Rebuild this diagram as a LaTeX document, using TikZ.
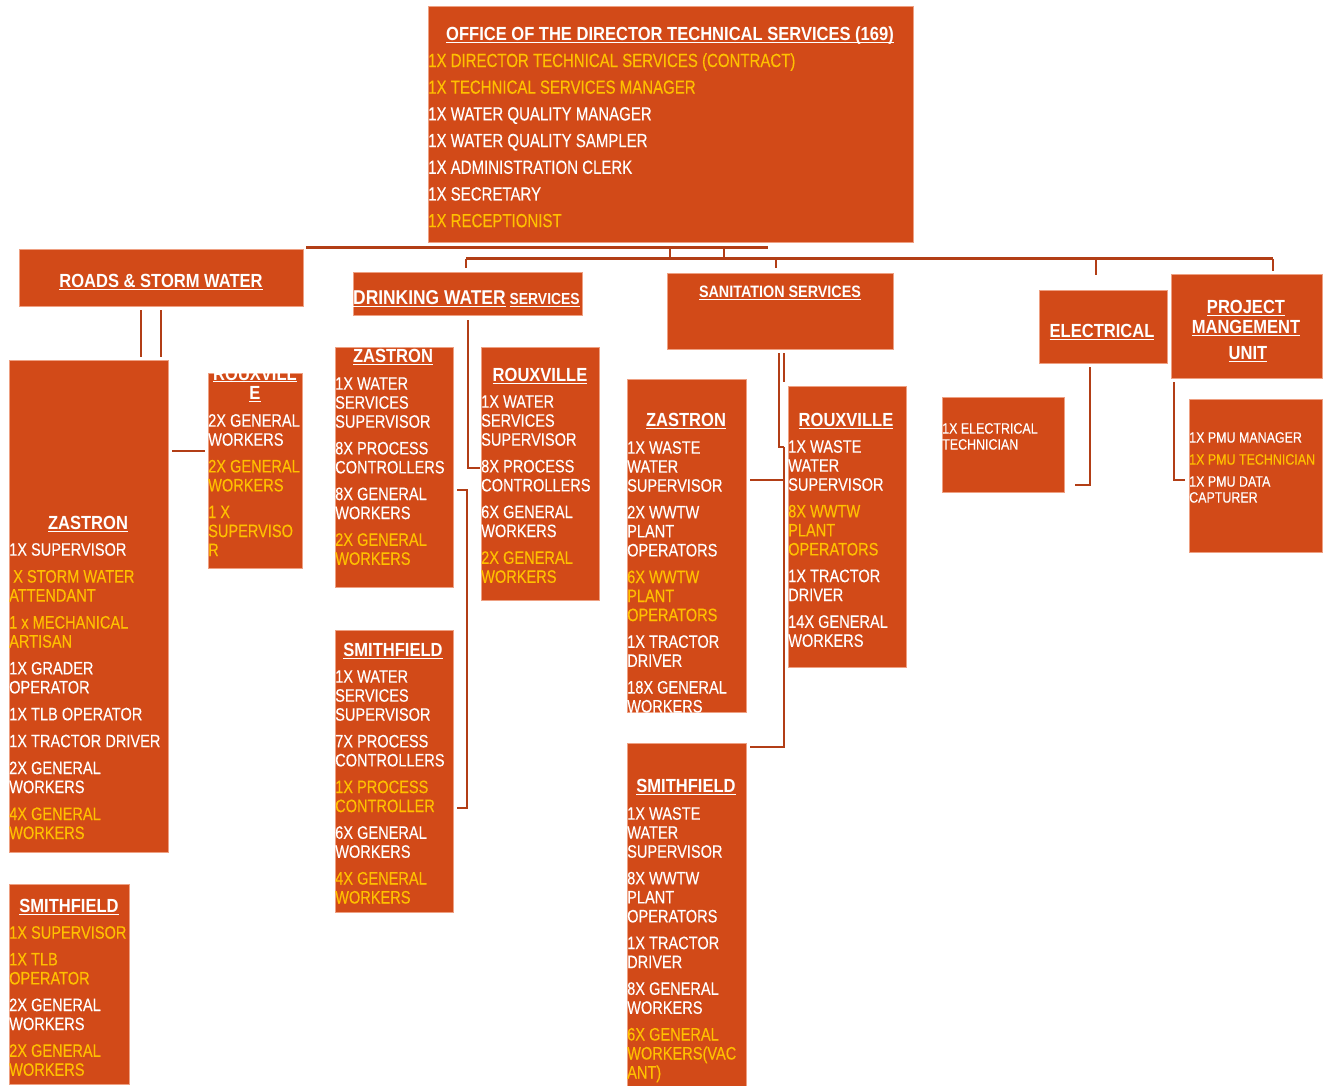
\documentclass[tikz,border=0pt]{standalone}
\usepackage{fontspec}
\setmainfont{Liberation Sans}
\newfontfamily\fbody{Liberation Sans}[FakeStretch=0.81,FakeBold=0.25]
\newfontfamily\ftop{Liberation Sans}[FakeStretch=0.79,FakeBold=0.25]
\newfontfamily\fhead{Liberation Sans}[FakeStretch=0.87]
\newfontfamily\fsmall{Liberation Sans}[FakeStretch=0.83,FakeBold=0.2]
\definecolor{boxc}{RGB}{210,74,24}
\definecolor{linec}{RGB}{178,62,22}
\definecolor{gold}{RGB}{255,192,0}
\definecolor{edgec}{RGB}{238,160,130}
\newcommand\gd[1]{\textcolor{gold}{#1}}
\newsavebox\ulbox
\newcommand\undl[1]{\sbox\ulbox{#1}\rlap{\rule[-2.2pt]{\wd\ulbox}{1.2pt}}\usebox\ulbox}
\newcommand\fsA{\rule{0pt}{14pt}}
\newcommand\fsS{\rule{0pt}{12pt}}
\newcommand\fsT{\rule{0pt}{15pt}}
\tikzset{
  box/.style={draw=edgec, line width=0.6pt, fill=boxc, anchor=north west, inner sep=0pt, outer sep=0pt},
  txt/.style={anchor=north west, inner sep=0pt, align=left, text=white, font=\fbody\fontsize{18}{19}\selectfont},
  stxt/.style={txt, font=\fsmall\fontsize{15}{16}\selectfont},
  toptxt/.style={txt, font=\ftop\fontsize{19}{26.7}\selectfont},
  head/.style={anchor=base, inner sep=0pt, text=white, font=\fhead\bfseries\fontsize{19}{21}\selectfont},
  conn/.style={draw=linec, line width=2.6pt},
  bus/.style={draw=linec, line width=3pt},
}
\begin{document}
\begin{tikzpicture}[x=1pt,y=-1pt]
\useasboundingbox (0,0) rectangle (1331,1086);

% ---------- boxes ----------
\node[box, minimum width=485pt, minimum height=236pt] (top) at (428,6) {};
\node[box, minimum width=284pt, minimum height=57pt] (roads) at (19,249) {};
\node[box, minimum width=159pt, minimum height=492pt] (rzas) at (9,360) {};
\node[box, minimum width=94pt, minimum height=195pt] (rrou) at (208,373) {};
\node[box, minimum width=120pt, minimum height=200pt] (rsmi) at (9,884) {};
\node[box, minimum width=229pt, minimum height=43pt] (dw) at (353,272) {};
\node[box, minimum width=118pt, minimum height=240pt] (dzas) at (335,347) {};
\node[box, minimum width=118pt, minimum height=253pt] (drou) at (481,347) {};
\node[box, minimum width=118pt, minimum height=282pt] (dsmi) at (335,630) {};
\node[box, minimum width=226pt, minimum height=76pt] (san) at (667,273) {};
\node[box, minimum width=119pt, minimum height=333pt] (szas) at (627,379) {};
\node[box, minimum width=118pt, minimum height=281pt] (srou) at (788,386) {};
\node[box, minimum width=119pt, minimum height=343pt] (ssmi) at (627,743) {};
\node[box, minimum width=128pt, minimum height=73pt] (elec) at (1039,290) {};
\node[box, minimum width=122pt, minimum height=95pt] (etec) at (942,397) {};
\node[box, minimum width=151pt, minimum height=104pt] (pmu) at (1171,274) {};
\node[box, minimum width=133pt, minimum height=153pt] (pmus) at (1189,399) {};

% ---------- top box ----------
\node[head] (toptitle) at (670,40.8) {\undl{OFFICE OF THE DIRECTOR TECHNICAL SERVICES (169)}};
\node[toptxt] (toplines) at (428,51.8) {\fsT\gd{1X DIRECTOR TECHNICAL SERVICES (CONTRACT)}\\
  \gd{1X TECHNICAL SERVICES MANAGER}\\
  1X WATER QUALITY MANAGER\\
  1X WATER QUALITY SAMPLER\\
  1X ADMINISTRATION CLERK\\
  1X SECRETARY\\
  \gd{1X RECEPTIONIST}};

% ---------- roads & storm water ----------
\node[head] (roadst) at (161,287.8) {\undl{ROADS \& STORM WATER}};
\node[head] (rzast) at (88,529.8) {\undl{ZASTRON}};
\node[txt] (rzasl) at (9,541.5) {\fsA 1X SUPERVISOR\\[7.9pt]
  \gd{\hspace{4pt}X STORM WATER}\\ \gd{ATTENDANT}\\[7.9pt]
  \gd{1 x MECHANICAL}\\ \gd{ARTISAN}\\[7.9pt]
  1X GRADER\\ OPERATOR\\[7.9pt]
  1X TLB OPERATOR\\[7.9pt]
  1X TRACTOR DRIVER\\[7.9pt]
  2X GENERAL\\ WORKERS\\[7.9pt]
  \gd{4X GENERAL}\\ \gd{WORKERS}};
\begin{scope}
  \clip (208,373) rectangle (302,568);
  \node[head] (rrout1) at (255,380) {\undl{ROUXVILL}};
  \node[head] (rrout2) at (255,399.8) {\undl{E}};
  \node[txt] (rroul) at (208,412.5) {\fsA 2X GENERAL\\ WORKERS\\[7.7pt]
    \gd{2X GENERAL}\\ \gd{WORKERS}\\[7.7pt]
    \gd{1 X}\\ \gd{SUPERVISO}\\ \gd{R}};
\end{scope}
\node[head] (rsmit) at (69,912.8) {\undl{SMITHFIELD}};
\node[txt] (rsmil) at (9,924.5) {\fsA\gd{1X SUPERVISOR}\\[7.7pt]
  \gd{1X TLB}\\ \gd{OPERATOR}\\[7.7pt]
  2X GENERAL\\ WORKERS\\[7.7pt]
  \gd{2X GENERAL}\\ \gd{WORKERS}};

% ---------- drinking water ----------
\node[head, anchor=base west, font=\fhead\bfseries\fontsize{20}{22}\selectfont] (dwt) at (353,305) {\undl{DRINKING WATER}\hspace{4pt}{\fontsize{16}{17}\selectfont\undl{SERVICES}}};
\node[head] (dzast) at (393,362.8) {\undl{ZASTRON}};
\node[txt] (dzasl) at (335,375.5) {\fsA 1X WATER\\ SERVICES\\ SUPERVISOR\\[7.7pt]
  8X PROCESS\\ CONTROLLERS\\[7.7pt]
  8X GENERAL\\ WORKERS\\[7.7pt]
  \gd{2X GENERAL}\\ \gd{WORKERS}};
\node[head] (drout) at (540,381.8) {\undl{ROUXVILLE}};
\node[txt] (droul) at (481,393.5) {\fsA 1X WATER\\ SERVICES\\ SUPERVISOR\\[7.7pt]
  8X PROCESS\\ CONTROLLERS\\[7.7pt]
  6X GENERAL\\ WORKERS\\[7.7pt]
  \gd{2X GENERAL}\\ \gd{WORKERS}};
\node[head] (dsmit) at (393,656.8) {\undl{SMITHFIELD}};
\node[txt] (dsmil) at (335,668.5) {\fsA 1X WATER\\ SERVICES\\ SUPERVISOR\\[7.7pt]
  7X PROCESS\\ CONTROLLERS\\[7.7pt]
  \gd{1X PROCESS}\\ \gd{CONTROLLER}\\[7.7pt]
  6X GENERAL\\ WORKERS\\[7.7pt]
  \gd{4X GENERAL}\\ \gd{WORKERS}};

% ---------- sanitation ----------
\node[head, font=\fhead\bfseries\fontsize{16.5}{18}\selectfont] (sant) at (780,298) {\undl{SANITATION SERVICES}};
\node[head] (szast) at (686,426.8) {\undl{ZASTRON}};
\begin{scope}
  \clip (627,379) rectangle (746,712);
  \node[txt] (szasl) at (627,439.5) {\fsA 1X WASTE\\ WATER\\ SUPERVISOR\\[7.7pt]
    2X WWTW\\ PLANT\\ OPERATORS\\[7.7pt]
    \gd{6X WWTW}\\ \gd{PLANT}\\ \gd{OPERATORS}\\[7.7pt]
    1X TRACTOR\\ DRIVER\\[7.7pt]
    18X GENERAL\\ WORKERS};
\end{scope}
\node[head] (srout) at (846,426.8) {\undl{ROUXVILLE}};
\node[txt] (sroul) at (788,438.5) {\fsA 1X WASTE\\ WATER\\ SUPERVISOR\\[7.7pt]
  \gd{8X WWTW}\\ \gd{PLANT}\\ \gd{OPERATORS}\\[7.7pt]
  1X TRACTOR\\ DRIVER\\[7.7pt]
  14X GENERAL\\ WORKERS};
\node[head] (ssmit) at (686,792.8) {\undl{SMITHFIELD}};
\node[txt] (ssmil) at (627,805.5) {\fsA 1X WASTE\\ WATER\\ SUPERVISOR\\[7.7pt]
  8X WWTW\\ PLANT\\ OPERATORS\\[7.7pt]
  1X TRACTOR\\ DRIVER\\[7.7pt]
  8X GENERAL\\ WORKERS\\[7.7pt]
  \gd{6X GENERAL}\\ \gd{WORKERS(VAC}\\ \gd{ANT)}};

% ---------- electrical / pmu ----------
\node[head] (elect) at (1102,337.8) {\undl{ELECTRICAL}};
\node[stxt] (etecl) at (942,421.4) {\fsS 1X ELECTRICAL\\ TECHNICIAN};
\node[head] (pmut1) at (1246,313.8) {\undl{PROJECT}};
\node[head] (pmut2) at (1246,333.8) {\undl{MANGEMENT}};
\node[head] (pmut3) at (1248,359.8) {\undl{UNIT}};
\node[stxt] (pmusl) at (1189,430.4) {\fsS 1X PMU MANAGER\\[6pt]
  \gd{1X PMU TECHNICIAN}\\[6pt]
  1X PMU DATA\\ CAPTURER};

% ---------- connectors ----------
\coordinate (busAl) at (306,248);
\coordinate (busAr) at (768,248);
\coordinate (tk1) at (670,248);
\coordinate (tk2) at (724,248);
\coordinate (busBl) at (466,259);
\coordinate (busBr) at (1273,259);
\coordinate (dwdrop) at (466,268);
\coordinate (sandrop) at (776,268);
\coordinate (eldrop) at (1096,275);
\coordinate (pmudrop) at (1273,271);
\draw[bus] (busAl) -- (busAr);
\draw[conn] (tk1) -- (tk1 |- busBl);
\draw[conn] (tk2) -- (tk2 |- busBl);
\draw[bus] (busBl) -- (busBr);
\draw[conn] (busBl) -- (dwdrop);
\draw[conn] (sandrop |- busBl) -- (sandrop);
\draw[conn] (eldrop |- busBl) -- (eldrop);
\draw[conn] (busBr) -- (pmudrop);

% roads
\coordinate (rv1a) at (141,310); \coordinate (rv1b) at (141,357);
\coordinate (rv2a) at (161,310); \coordinate (rv2b) at (161,357);
\draw[conn] (rv1a) -- (rv1b);
\draw[conn] (rv2a) -- (rv2b);
\coordinate (rlinkA) at (172,451); \coordinate (rlinkB) at (205,451);
\draw[conn] (rlinkA) -- (rlinkB);

% drinking water
\coordinate (dv1a) at (468,320); \coordinate (dv1b) at (480,468);
\draw[conn] (dv1a) |- (dv1b);
\coordinate (dv2a) at (457,490); \coordinate (dv2c) at (467,490);
\coordinate (dv2d) at (467,808); \coordinate (dv2e) at (457,808);
\draw[conn] (dv2a) -- (dv2c) -- (dv2d) -- (dv2e);

% sanitation
\coordinate (sv1a) at (779,353); \coordinate (sv1b) at (784,447);
\draw[conn, line width=2pt] (sv1a) |- (sv1b);
\coordinate (sv2a) at (784,353); \coordinate (sv2b) at (784,382);
\draw[conn, line width=2pt] (sv2a) -- (sv2b);
\coordinate (sv3b) at (750,747);
\draw[conn] (sv1b) |- (sv3b);
\coordinate (sv4a) at (750,480); \coordinate (sv4b) at (784,480);
\draw[conn] (sv4a) -- (sv4b);

% electrical
\coordinate (ev1a) at (1090,367); \coordinate (ev1b) at (1075,485);
\draw[conn] (ev1a) |- (ev1b);

% pmu
\coordinate (pv1a) at (1174,382); \coordinate (pv1b) at (1185,480);
\draw[conn] (pv1a) |- (pv1b);
\end{tikzpicture}
\end{document}
